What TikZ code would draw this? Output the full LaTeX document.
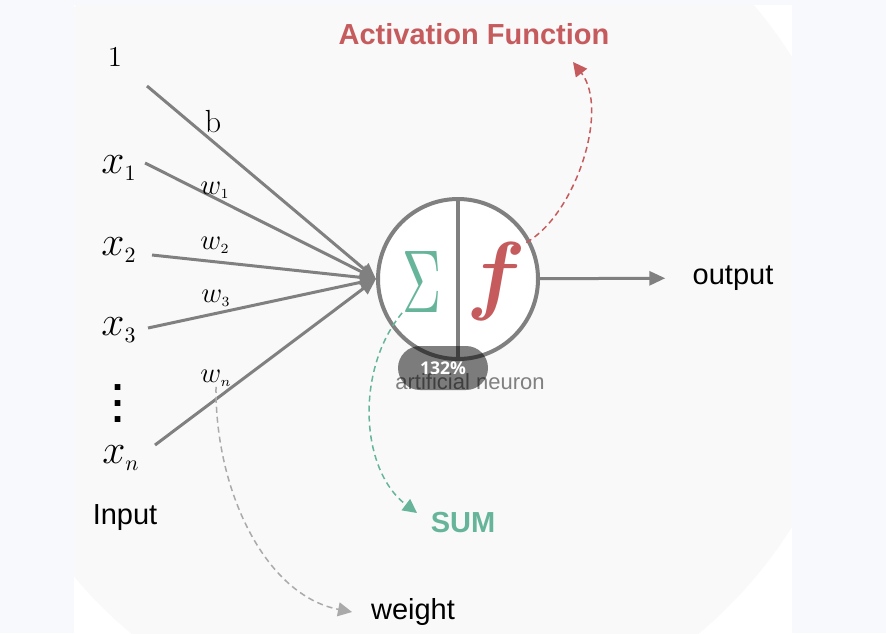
\documentclass[tikz,border=0pt]{standalone}
\usepackage{fontspec}
\newfontfamily\labfont{Liberation Sans}
\newfontfamily\badgefont{Open Sans}
\usetikzlibrary{positioning}
\usetikzlibrary{arrows.meta}

\definecolor{edgegray}{HTML}{808080}
\definecolor{hintgray}{HTML}{AAAAAA}
\definecolor{sumgreen}{HTML}{66B59B}
\definecolor{actred}{HTML}{C65B5E}
\definecolor{pagebg}{HTML}{F8F9FD}
\definecolor{disc}{HTML}{F9F9F9}

\newcommand{\xin}[1]{x_{\scriptscriptstyle #1}}
\newcommand{\wt}[1]{w_{\scriptscriptstyle #1}}
\newcommand{\tallvdots}{\vbox{\baselineskip=8pt \lineskiplimit=0pt \hbox{.}\hbox{.}\hbox{.}}}

\begin{document}
\begin{tikzpicture}[x=0.5pt, y=-0.5pt,
    inp/.style = {inner sep=0pt, font=\fontsize{22}{26}\selectfont},
    wlab/.style = {inner sep=0pt, font=\fontsize{15}{18}\selectfont},
    lab/.style = {inner sep=0pt, font=\labfont\fontsize{14.5}{17}\selectfont},
    title/.style = {inner sep=0pt, font=\labfont\bfseries\fontsize{14.5}{17}\selectfont},
    neuron/.style = {draw=edgegray, circle, line width=2pt, fill=white, minimum size=80pt, inner sep=0pt},
    edge/.style = {draw=edgegray, line width=1.5pt, -{Triangle[length=8pt,width=7pt]}},
    hint/.style = {line width=0.75pt, dash pattern=on 3pt off 2pt, -{Triangle[length=7pt,width=7pt]}},
    badge/.style = {fill=black, fill opacity=0.5, text=white, text opacity=1, rounded corners=11pt,
        minimum width=45pt, minimum height=22pt, inner sep=0pt, font=\badgefont\bfseries\fontsize{8.8}{10}\selectfont}]
    \useasboundingbox (0,0) rectangle (886,633);
    % Background
    \fill[pagebg] (0,0) rectangle (886,633);
    \fill[white] (74,5) rectangle (792,633);
    \begin{scope}
        \clip (74,5) rectangle (792,633);
        \fill[disc] (415,292) circle [radius=222pt];
    \end{scope}
    % Inputs
    \node[inp, font=\fontsize{15.5}{18}\selectfont] (one) at (115,57) {$1$};
    \node[inp] (x1) at (119,168) {$\xin1$};
    \node[inp] (x2) at (119,250) {$\xin2$};
    \node[inp] (x3) at (119,330) {$\xin3$};
    \node[inp, font=\labfont\bfseries\fontsize{20}{8}\selectfont] (dots) at (118,404) {\tallvdots};
    \node[inp] (xn) at (121,458) {$\xin n$};
    \node[lab] (input) at (125,518) {Input};
    % Line starts
    \coordinate (s0) at (147,86);
    \coordinate (s1) at (145,163);
    \coordinate (s2) at (152,255);
    \coordinate (s3) at (148,328);
    \coordinate (sn) at (155,445);
    % Neuron
    \node[neuron] (nrn) at (458,279) {};
    % Edges
    \draw[edge] (s0) -- (nrn.west);
    \draw[edge] (s1) -- (nrn.west);
    \draw[edge] (s2) -- (nrn.west);
    \draw[edge] (s3) -- (nrn.west);
    \draw[edge] (sn) -- (nrn.west);
    \draw[draw=edgegray, line width=2pt] (nrn.north) -- (nrn.south);
    \node[inner sep=0pt, text=sumgreen] (sigma) at (422,282) {\resizebox{19.5pt}{30.5pt}{$\Sigma$}};
    \node[inner sep=0pt, text=actred] (fsym) at (496,282) {\resizebox{!}{30.5pt}{\boldmath$f$}};
    % Weights
    \node[wlab, font=\fontsize{16}{19}\selectfont] (lb) at (213,122) {$\mathrm{b}$};
    \node[wlab] (lw1) at (215,190) {$\wt1$};
    \node[wlab] (lw2) at (215,245) {$\wt2$};
    \node[wlab] (lw3) at (216,298) {$\wt3$};
    \node[wlab] (lwn) at (216,378) {$\wt n$};
    % Output
    \node[lab] (out) at (733,278) {output};
    \draw[edge, shorten >=13.5pt] (nrn) -- (out);
    % Captions
    \node[title, text=actred] (act) at (474,34) {Activation Function};
    \node[title, text=sumgreen] (sum) at (463,523) {SUM};
    \node[lab] (weight) at (413,612) {weight};
    \node[lab, text=edgegray, font=\labfont\fontsize{11}{13}\selectfont] (cap) at (470,382) {artificial neuron};
    \coordinate (acttip) at (573,62);
    \coordinate (sumtip) at (417,513);
    \coordinate (wtip) at (352,612);
    \draw[hint, actred] (fsym.north east) .. controls (575,215) and (610,110) .. (acttip);
    \draw[hint, sumgreen] (sigma.south west) .. controls (355,370) and (360,470) .. (sumtip);
    \draw[hint, hintgray] (lwn.south) .. controls (215,490) and (265,595) .. (wtip);
    % Zoom badge
    \node[badge] (zoom) at (443,368) {132\%};
\end{tikzpicture}
\end{document}
